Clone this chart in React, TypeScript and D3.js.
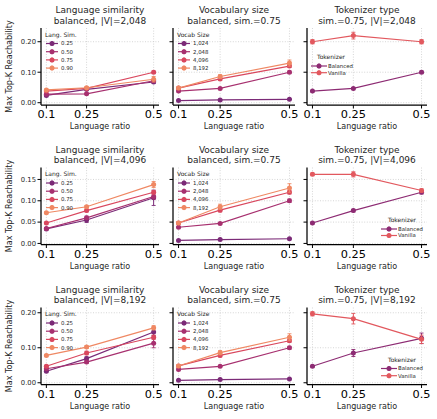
import React from "react";
import * as d3 from "d3";

// x positions shared by every panel
const ratios = [0.1, 0.25, 0.5];
const ratioLabels = ["0.1", "0.25", "0.5"];

const simLevels = ["0.25", "0.50", "0.75", "0.90"];
const vocabLevels = ["1,024", "2,048", "4,096", "8,192"];
const tokenizers = ["Balanced", "Vanilla"];

const levelColors = ["#7b2a77", "#a7306f", "#d9475e", "#ef8863"];
const tokColors = ["#8d2b73", "#e2585e"];

// Language similarity (balanced), one row per |V|
const simMeanV2048 = [
  [0.024, 0.044, 0.068],
  [0.028, 0.029, 0.072],
  [0.038, 0.047, 0.1],
  [0.042, 0.049, 0.077],
];
const simErrV2048 = [
  [0.002, 0.003, 0.004],
  [0.002, 0.002, 0.004],
  [0.002, 0.002, 0.004],
  [0.003, 0.003, 0.009],
];
const simMeanV4096 = [
  [0.034, 0.055, 0.107],
  [0.035, 0.06, 0.11],
  [0.048, 0.077, 0.12],
  [0.072, 0.086, 0.138],
];
const simErrV4096 = [
  [0.002, 0.006, 0.018],
  [0.002, 0.004, 0.006],
  [0.002, 0.003, 0.004],
  [0.002, 0.003, 0.007],
];
const simMeanV8192 = [
  [0.033, 0.069, 0.145],
  [0.04, 0.059, 0.113],
  [0.047, 0.085, 0.13],
  [0.078, 0.102, 0.157],
];
const simErrV8192 = [
  [0.002, 0.005, 0.01],
  [0.002, 0.004, 0.013],
  [0.003, 0.005, 0.006],
  [0.003, 0.004, 0.006],
];

// Vocabulary size (balanced, sim.=0.75)
const vocabMean = [
  [0.007, 0.009, 0.011],
  [0.038, 0.047, 0.1],
  [0.048, 0.078, 0.12],
  [0.048, 0.086, 0.13],
];
const vocabErr = [
  [0.001, 0.001, 0.001],
  [0.002, 0.002, 0.004],
  [0.002, 0.004, 0.004],
  [0.003, 0.006, 0.01],
];

// Tokenizer type (sim.=0.75): Balanced, Vanilla
const tokMeanV2048 = [
  [0.038, 0.047, 0.1],
  [0.2, 0.22, 0.2],
];
const tokErrV2048 = [
  [0.002, 0.002, 0.004],
  [0.007, 0.011, 0.007],
];
const tokMeanV4096 = [
  [0.048, 0.077, 0.12],
  [0.162, 0.162, 0.124],
];
const tokErrV4096 = [
  [0.002, 0.003, 0.004],
  [0.003, 0.006, 0.004],
];
const tokMeanV8192 = [
  [0.047, 0.085, 0.127],
  [0.197, 0.183, 0.124],
];
const tokErrV8192 = [
  [0.003, 0.01, 0.015],
  [0.006, 0.015, 0.012],
];

const rowDomains = [
  [-0.0075, 0.245],
  [-0.0025, 0.178],
  [-0.005, 0.215],
];
const rowTicks = [
  [0, 0.1, 0.2],
  [0, 0.05, 0.1, 0.15],
  [0, 0.1, 0.2],
];
const vocabTitles = ["2,048", "4,096", "8,192"];

const FONT = "DejaVu Sans, sans-serif";
const colLeft = [41, 173, 307];
const colWidth = [118, 122, 120];
const rowTop = [28, 167.5, 307.5];
const plotH = 77;

type Series = { label: string; color: string; mean: number[]; err: number[] };
type LegendSpec = {
  title: string;
  x: number; // title x, relative to plot left
  titleY: number; // relative to plot top
  firstY: number;
  step: number;
  h0: number;
  h1: number;
  labelX: number;
};

function Legend({ spec, series }: { spec: LegendSpec; series: Series[] }) {
  return (
    <g fontFamily={FONT}>
      <text x={spec.x} y={spec.titleY} fontSize={6} fill="#262626">
        {spec.title}
      </text>
      {series.map((s, i) => {
        const y = spec.firstY + i * spec.step;
        const mx = (spec.h0 + spec.h1) / 2;
        return (
          <g key={s.label}>
            <line x1={spec.h0} x2={spec.h1} y1={y} y2={y} stroke={s.color} strokeWidth={1.2} />
            <line x1={mx} x2={mx} y1={y - 2.5} y2={y + 2.5} stroke={s.color} strokeWidth={1} />
            <circle cx={mx} cy={y} r={2.5} fill={s.color} />
            <text x={spec.labelX} y={y + 1.9} fontSize={5.4} fill="#262626">
              {s.label}
            </text>
          </g>
        );
      })}
    </g>
  );
}

function Panel(props: {
  left: number;
  top: number;
  width: number;
  row: number;
  yLabels: boolean;
  title: [string, string];
  series: Series[];
  legend: LegendSpec;
}) {
  const { left, top, width, row, yLabels, title, series, legend } = props;
  const x = d3.scaleLinear().domain([0.08, 0.52]).range([0, width]);
  const y = d3.scaleLinear().domain(rowDomains[row]).range([plotH, 0]);
  const line = d3
    .line<number>()
    .x((_, i) => x(ratios[i]))
    .y((d) => y(d));
  const fmt = d3.format(".2f");

  return (
    <g transform={`translate(${left},${top})`} fontFamily={FONT}>
      {/* dotted grid */}
      {ratios.map((r) => (
        <line key={"gx" + r} x1={x(r)} x2={x(r)} y1={0} y2={plotH} stroke="#cccccc" strokeWidth={0.8} strokeDasharray="1,1.6" />
      ))}
      {rowTicks[row].map((t) => (
        <line key={"gy" + t} x1={0} x2={width} y1={y(t)} y2={y(t)} stroke="#cccccc" strokeWidth={0.8} strokeDasharray="1,1.6" />
      ))}

      {/* series: lines, error bars, markers */}
      {series.map((s) => (
        <g key={s.label}>
          <path d={line(s.mean) || ""} fill="none" stroke={s.color} strokeWidth={1.2} />
          {s.mean.map((m, i) => {
            const cx = x(ratios[i]);
            const lo = y(m - s.err[i]);
            const hi = y(m + s.err[i]);
            return (
              <g key={i}>
                <line x1={cx} x2={cx} y1={lo} y2={hi} stroke={s.color} strokeWidth={1} />
                <line x1={cx - 2} x2={cx + 2} y1={lo} y2={lo} stroke={s.color} strokeWidth={0.9} />
                <line x1={cx - 2} x2={cx + 2} y1={hi} y2={hi} stroke={s.color} strokeWidth={0.9} />
                <circle cx={cx} cy={y(m)} r={2.5} fill={s.color} />
              </g>
            );
          })}
        </g>
      ))}

      {/* spines */}
      <line x1={0} x2={0} y1={0} y2={plotH} stroke="#000" strokeWidth={1.25} />
      <line x1={0} x2={width} y1={plotH} y2={plotH} stroke="#000" strokeWidth={1.25} />

      {/* y ticks */}
      {rowTicks[row].map((t) => (
        <g key={"ty" + t}>
          <line x1={-3.5} x2={0} y1={y(t)} y2={y(t)} stroke="#000" strokeWidth={1} />
          {yLabels && (
            <text x={-5} y={y(t)} dy="0.35em" textAnchor="end" fontSize={6.8} fill="#262626">
              {fmt(t)}
            </text>
          )}
        </g>
      ))}

      {/* x ticks */}
      {ratios.map((r, i) => (
        <g key={"tx" + r}>
          <line x1={x(r)} x2={x(r)} y1={plotH} y2={plotH + 3.5} stroke="#000" strokeWidth={1} />
          <text x={x(r)} y={plotH + 13.4} textAnchor="middle" fontSize={11.3} fill="#000">
            {ratioLabels[i]}
          </text>
        </g>
      ))}

      <text x={width / 2} y={plotH + 24} textAnchor="middle" fontSize={8} fill="#262626">
        Language ratio
      </text>

      <text x={width / 2} y={-15} textAnchor="middle" fontSize={9} fill="#262626">
        {title[0]}
      </text>
      <text x={width / 2} y={-4.5} textAnchor="middle" fontSize={9} fill="#262626">
        {title[1]}
      </text>

      <Legend spec={legend} series={series} />
    </g>
  );
}

const topLeftLegend = (title: string): LegendSpec => ({
  title,
  x: 4,
  titleY: 8.5,
  firstY: 15.5,
  step: 8.2,
  h0: 5,
  h1: 17,
  labelX: 20,
});

const tokLegends: LegendSpec[] = [
  { title: "Tokenizer", x: 10, titleY: 31.3, firstY: 38, step: 6.7, h0: 4, h1: 20, labelX: 21 },
  { title: "Tokenizer", x: 81, titleY: plotH - 22.5, firstY: plotH - 15.5, step: 6.5, h0: 74, h1: 90, labelX: 91 },
  { title: "Tokenizer", x: 81, titleY: plotH - 23, firstY: plotH - 16, step: 7.2, h0: 74, h1: 90, labelX: 91 },
];

const simMeans = [simMeanV2048, simMeanV4096, simMeanV8192];
const simErrs = [simErrV2048, simErrV4096, simErrV8192];
const tokMeans = [tokMeanV2048, tokMeanV4096, tokMeanV8192];
const tokErrs = [tokErrV2048, tokErrV4096, tokErrV8192];

export default function App() {
  return (
    <svg
      width={437}
      height={419}
      style={{ position: "absolute", left: 0, top: 0, background: "#fff" }}
    >
      <rect width={437} height={419} fill="#fff" />
      {[0, 1, 2].map((row) => {
        const simSeries: Series[] = simLevels.map((l, i) => ({
          label: l,
          color: levelColors[i],
          mean: simMeans[row][i],
          err: simErrs[row][i],
        }));
        const vocabSeries: Series[] = vocabLevels.map((l, i) => ({
          label: l,
          color: levelColors[i],
          mean: vocabMean[i],
          err: vocabErr[i],
        }));
        const tokSeries: Series[] = tokenizers.map((l, i) => ({
          label: l,
          color: tokColors[i],
          mean: tokMeans[row][i],
          err: tokErrs[row][i],
        }));
        const top = rowTop[row];
        return (
          <g key={row}>
            <text
              transform={`translate(12,${top + plotH / 2}) rotate(-90)`}
              textAnchor="middle"
              fontSize={8}
              fontFamily={FONT}
              fill="#262626"
            >
              Max Top-K Reachability
            </text>
            <Panel
              left={colLeft[0]}
              top={top}
              width={colWidth[0]}
              row={row}
              yLabels
              title={["Language similarity", `balanced, |V|=${vocabTitles[row]}`]}
              series={simSeries}
              legend={topLeftLegend("Lang. Sim.")}
            />
            <Panel
              left={colLeft[1]}
              top={top}
              width={colWidth[1]}
              row={row}
              yLabels={false}
              title={["Vocabulary size", "balanced, sim.=0.75"]}
              series={vocabSeries}
              legend={topLeftLegend("Vocab Size")}
            />
            <Panel
              left={colLeft[2]}
              top={top}
              width={colWidth[2]}
              row={row}
              yLabels={false}
              title={["Tokenizer type", `sim.=0.75, |V|=${vocabTitles[row]}`]}
              series={tokSeries}
              legend={tokLegends[row]}
            />
          </g>
        );
      })}
    </svg>
  );
}
